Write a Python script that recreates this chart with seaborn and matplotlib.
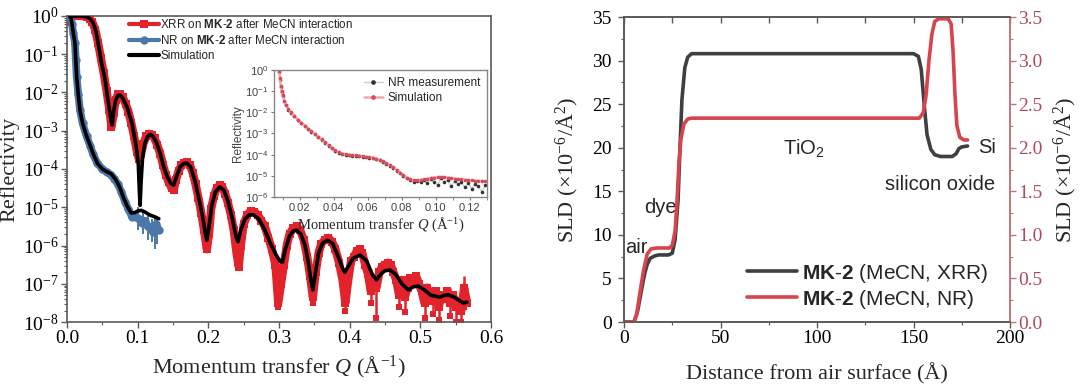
import numpy as np
import matplotlib
matplotlib.use("Agg")
import matplotlib.pyplot as plt
import seaborn as sns
from matplotlib.ticker import LogLocator, MultipleLocator, NullFormatter

sns.set_style("ticks")
plt.rcParams["font.family"] = ["Liberation Serif", "DejaVu Serif"]
plt.rcParams["mathtext.fontset"] = "custom"
plt.rcParams["mathtext.rm"] = "Liberation Serif"
plt.rcParams["mathtext.it"] = "Liberation Serif:italic"
plt.rcParams["mathtext.bf"] = "Liberation Sans:bold"
plt.rcParams["mathtext.sf"] = "Liberation Sans"

SANS = ["Liberation Sans", "DejaVu Sans"]

# ---------------- XRR / NR reflectivity (log10 R) ----------------
xrr_q = [0.002, 0.005, 0.008, 0.012, 0.016, 0.020, 0.024, 0.028, 0.032, 0.036,
         0.040, 0.044, 0.048, 0.052, 0.056, 0.060, 0.063, 0.066, 0.069, 0.072,
         0.075, 0.079, 0.083, 0.087, 0.091, 0.095, 0.099, 0.102, 0.105, 0.108,
         0.112, 0.116, 0.120, 0.124, 0.128, 0.132, 0.136, 0.140, 0.144, 0.148,
         0.151, 0.154, 0.158, 0.162, 0.166, 0.170, 0.174, 0.178, 0.182, 0.186,
         0.190, 0.194, 0.198, 0.201, 0.204, 0.208, 0.212, 0.216, 0.220, 0.224,
         0.228, 0.232, 0.236, 0.240, 0.243, 0.246, 0.250, 0.255, 0.260, 0.265,
         0.270, 0.275, 0.280, 0.285, 0.290, 0.295, 0.299, 0.303, 0.307, 0.311,
         0.315, 0.320, 0.325, 0.330, 0.335, 0.340, 0.344, 0.348, 0.352, 0.356,
         0.360, 0.365, 0.370, 0.375, 0.380, 0.385, 0.390, 0.394, 0.398, 0.402,
         0.406, 0.410, 0.414, 0.418, 0.422, 0.426, 0.430, 0.434, 0.438, 0.442,
         0.446, 0.450, 0.454, 0.458, 0.462, 0.466, 0.470, 0.474, 0.478, 0.482,
         0.486, 0.490, 0.494, 0.498, 0.502, 0.506, 0.510, 0.514, 0.518, 0.522,
         0.526, 0.530, 0.534, 0.538, 0.542, 0.546, 0.550, 0.554, 0.558, 0.562,
         0.566]
xrr_log = [-0.15, -0.05, 0.0, 0.0, 0.0, 0.0, -0.01, -0.03, -0.07, -0.17,
           -0.36, -0.7, -1.1, -1.5, -1.95, -2.45, -2.9, -2.55, -2.2, -2.05,
           -2.05, -2.13, -2.3, -2.5, -2.8, -3.15, -3.55, -3.75, -3.6, -3.35,
           -3.15, -3.08, -3.1, -3.2, -3.38, -3.6, -3.9, -4.15, -4.35, -4.5,
           -4.55, -4.3, -4.05, -3.9, -3.85, -3.83, -3.9, -4.1, -4.4, -4.75,
           -5.15, -5.6, -6.1, -5.7, -5.05, -4.7, -4.5, -4.43, -4.48, -4.65,
           -4.9, -5.2, -5.6, -6.2, -6.55, -6.0, -5.45, -5.2, -5.1, -5.12,
           -5.2, -5.35, -5.5, -5.8, -6.1, -6.5, -7.5, -7.0, -6.5, -6.0,
           -5.7, -5.55, -5.5, -5.6, -5.85, -6.3, -6.8, -7.35, -6.7, -6.2,
           -5.95, -5.85, -5.8, -5.9, -6.1, -6.45, -6.9, -7.5, -6.9, -6.4,
           -6.3, -6.15, -6.1, -6.2, -6.5, -6.75, -7.2, -6.9, -7.1, -6.7,
           -6.55, -6.5, -6.45, -6.5, -6.7, -6.9, -7.3, -6.9, -7.35, -7.1,
           -6.85, -6.95, -6.8, -7.0, -7.2, -7.5, -7.1, -7.35, -7.45, -7.2,
           -7.6, -7.3, -7.4, -7.2, -7.5, -7.3, -7.6, -7.45, -7.7, -7.1,
           -7.5]

# error bars of the XRR points at high Q (log10 of lower / upper ends)
xrr_eb_q = [0.299, 0.348, 0.394, 0.430, 0.438, 0.470, 0.478, 0.506, 0.518, 0.526,
            0.542, 0.550, 0.558, 0.562]
xrr_eb_lo = [-7.6, -7.5, -7.7, -7.5, -7.9, -7.6, -7.75, -7.9, -7.8, -7.95,
             -7.85, -8.0, -8.0, -7.6]
xrr_eb_hi = [-7.3, -7.2, -7.3, -6.9, -6.8, -7.0, -7.0, -7.2, -7.1, -7.2,
             -7.1, -7.3, -7.3, -6.8]

xrr_sim_q = [0.004, 0.015, 0.025, 0.032, 0.037, 0.041, 0.044, 0.049, 0.054, 0.058,
             0.061, 0.063, 0.064, 0.066, 0.069, 0.072, 0.075, 0.079, 0.085, 0.092,
             0.096, 0.099, 0.101, 0.1025, 0.1035, 0.105, 0.107, 0.110, 0.114, 0.118,
             0.122, 0.127, 0.132, 0.137, 0.142, 0.147, 0.151, 0.155, 0.160, 0.165,
             0.170, 0.175, 0.181, 0.187, 0.192, 0.196, 0.198, 0.201, 0.205, 0.210,
             0.216, 0.222, 0.228, 0.234, 0.239, 0.242, 0.246, 0.252, 0.258, 0.264,
             0.271, 0.279, 0.288, 0.296, 0.302, 0.305, 0.309, 0.315, 0.320, 0.325,
             0.331, 0.337, 0.342, 0.346, 0.348, 0.351, 0.356, 0.362, 0.369, 0.376,
             0.384, 0.390, 0.393, 0.398, 0.405, 0.415, 0.424, 0.432, 0.438, 0.444,
             0.450, 0.457, 0.465, 0.474, 0.483, 0.490, 0.497, 0.505, 0.515, 0.528,
             0.534, 0.540, 0.548, 0.556, 0.561, 0.566]
xrr_sim_log = [-0.02, 0.0, -0.01, -0.06, -0.18, -0.4, -0.7, -1.23, -1.67, -2.2,
               -2.55, -2.8, -2.85, -2.5, -2.2, -2.08, -2.07, -2.15, -2.38, -2.8,
               -3.2, -3.55, -3.9, -4.6, -4.95, -4.3, -3.7, -3.35, -3.15, -3.1,
               -3.15, -3.33, -3.6, -3.95, -4.2, -4.38, -4.42, -4.2, -3.95, -3.86,
               -3.85, -3.95, -4.3, -4.8, -5.25, -5.7, -5.86, -5.5, -4.95, -4.6,
               -4.47, -4.55, -4.85, -5.3, -5.75, -5.9, -5.6, -5.3, -5.2, -5.2,
               -5.3, -5.55, -5.95, -6.25, -6.42, -6.43, -6.1, -5.75, -5.62, -5.6,
               -5.7, -6.0, -6.5, -7.0, -7.16, -6.8, -6.2, -5.93, -5.86, -5.95,
               -6.3, -6.6, -6.7, -6.55, -6.33, -6.25, -6.4, -6.75, -6.9, -6.75,
               -6.66, -6.64, -6.75, -7.0, -7.16, -7.08, -7.06, -7.15, -7.3, -7.35,
               -7.3, -7.29, -7.35, -7.45, -7.5, -7.48]

nr_q = [0.005, 0.007, 0.009, 0.0113, 0.0125, 0.0137, 0.016, 0.0184, 0.022, 0.0278,
        0.033, 0.037, 0.043, 0.050, 0.056, 0.062, 0.067, 0.072, 0.077, 0.082,
        0.087, 0.092, 0.097, 0.102, 0.106, 0.110, 0.114, 0.118, 0.122, 0.126,
        0.130]
nr_log = [0.0, -0.2, -0.45, -0.71, -1.15, -1.59, -2.05, -2.46, -2.8, -3.15,
          -3.4, -3.62, -3.85, -4.0, -4.08, -4.15, -4.25, -4.4, -4.6, -4.85,
          -5.05, -5.25, -5.25, -5.3, -5.4, -5.35, -5.5, -5.55, -5.65, -5.45,
          -5.6]
nr_eb_q = [0.100, 0.108, 0.114, 0.120, 0.124, 0.128]
nr_eb_lo = [-5.6, -5.7, -5.85, -5.9, -6.1, -5.95]
nr_eb_hi = [-5.0, -5.1, -5.2, -5.3, -5.2, -5.3]

nr_sim_q = [0.005, 0.007, 0.009, 0.0113, 0.0125, 0.0137, 0.016, 0.0184, 0.022, 0.027,
            0.032, 0.037, 0.043, 0.050, 0.056, 0.062, 0.068, 0.074, 0.080, 0.086,
            0.091, 0.096, 0.100, 0.105, 0.110, 0.117, 0.124, 0.130]
nr_sim_log = [0.0, -0.2, -0.45, -0.71, -1.15, -1.59, -2.05, -2.46, -2.8, -3.1,
              -3.35, -3.6, -3.85, -4.0, -4.07, -4.12, -4.25, -4.45, -4.75, -5.0,
              -5.15, -5.14, -5.1, -5.08, -5.12, -5.2, -5.25, -5.3]

# ---------------- inset: NR measurement vs simulation ----------------
ins_q = [0.008, 0.0085, 0.009, 0.0095, 0.010, 0.011, 0.012, 0.0135, 0.015, 0.017,
         0.019, 0.021, 0.023, 0.025, 0.027, 0.029, 0.031, 0.033, 0.035, 0.037,
         0.039, 0.041, 0.043, 0.045, 0.047, 0.049, 0.051, 0.053, 0.055, 0.057,
         0.059, 0.061, 0.063, 0.065, 0.067, 0.069, 0.071, 0.073, 0.075, 0.077,
         0.079, 0.081, 0.083, 0.085, 0.087, 0.089, 0.091, 0.093, 0.095, 0.097,
         0.099, 0.101, 0.103, 0.105, 0.107, 0.109, 0.111, 0.113, 0.115, 0.117,
         0.119, 0.121, 0.123, 0.125, 0.127, 0.129]
ins_sim_log = [-0.05, -0.4, -0.75, -1.0, -1.2, -1.45, -1.65, -1.85, -2.0, -2.15,
               -2.35, -2.5, -2.63, -2.77, -2.9, -3.02, -3.15, -3.28, -3.42, -3.55,
               -3.67, -3.8, -3.88, -3.95, -3.98, -4.0, -4.02, -4.03, -4.05, -4.07,
               -4.1, -4.12, -4.15, -4.2, -4.25, -4.32, -4.4, -4.5, -4.6, -4.72,
               -4.85, -4.97, -5.08, -5.17, -5.22, -5.22, -5.2, -5.17, -5.14, -5.1,
               -5.08, -5.06, -5.05, -5.06, -5.08, -5.1, -5.13, -5.15, -5.17, -5.19,
               -5.2, -5.22, -5.23, -5.24, -5.25, -5.26]
ins_meas_log = [-0.08, -0.45, -0.8, -1.05, -1.22, -1.48, -1.66, -1.88, -2.02, -2.17,
                -2.36, -2.52, -2.65, -2.78, -2.92, -3.04, -3.16, -3.3, -3.43, -3.57,
                -3.69, -3.82, -3.9, -3.96, -4.0, -4.01, -4.04, -4.05, -4.06, -4.09,
                -4.12, -4.14, -4.17, -4.22, -4.27, -4.35, -4.42, -4.53, -4.63, -4.75,
                -4.88, -5.0, -5.12, -5.2, -5.3, -5.25, -5.3, -5.2, -5.35, -5.15,
                -5.3, -5.45, -5.1, -5.3, -5.2, -5.5, -5.25, -5.4, -5.3, -5.55,
                -5.35, -5.6, -5.4, -5.5, -5.75, -5.45]

# ---------------- SLD profiles ----------------
sld_xrr_d = [0, 5, 5.5, 7, 8.5, 10, 11, 12, 13.5, 16, 18, 23, 25, 26.5, 28, 29, 30,
             31.5, 33, 35, 60, 100, 150, 152.5, 154, 155.5, 157, 159, 161, 164, 170,
             172, 173.5, 175, 178]
sld_xrr_v = [0, 0, 0.2, 1.2, 3.0, 4.8, 5.8, 6.6, 7.3, 7.6, 7.7, 7.7, 7.9, 9.5, 14, 20,
             25.5, 29.2, 30.4, 30.8, 30.8, 30.8, 30.8, 30.5, 29, 25, 21.5, 19.8, 19.2,
             19.0, 19.0, 19.3, 19.9, 20.1, 20.2]
sld_nr_d = [0, 5, 6.5, 8, 10, 12, 14, 17, 23.5, 25, 26.5, 27.5, 28.5, 29.5, 31, 33,
            35, 100, 153, 155, 156.5, 158, 159.5, 161, 163, 168, 169.5, 170.5, 171.5,
            172.5, 174, 176, 178]
sld_nr_v = [0, 0, 0.08, 0.3, 0.58, 0.78, 0.84, 0.85, 0.85, 0.88, 1.05, 1.4, 1.85,
            2.1, 2.27, 2.33, 2.34, 2.34, 2.34, 2.4, 2.6, 3.0, 3.3, 3.45, 3.48, 3.48,
            3.42, 3.1, 2.6, 2.25, 2.12, 2.09, 2.09]

RED = "#e3232b"
BLUE = "#4a78a8"
GRAY = "#5a5a5a"
NR_RED = "#d8434c"

fig = plt.figure(figsize=(10.8, 3.88), dpi=100)
ax1 = fig.add_axes([0.062, 0.170, 0.3926, 0.789])
ax2 = fig.add_axes([0.5778, 0.170, 0.3574, 0.786])
axin = fig.add_axes([0.2537, 0.4923, 0.1972, 0.3273])

# ---- main reflectivity panel ----
ax1.set_yscale("log")
ax1.vlines(xrr_eb_q, np.power(10.0, xrr_eb_lo), np.power(10.0, xrr_eb_hi),
           color=RED, lw=1.8, zorder=2)
ax1.scatter(xrr_eb_q, np.power(10.0, xrr_eb_lo), marker="s", s=22, color=RED,
            linewidths=0, zorder=2)
sns.lineplot(x=xrr_q, y=np.power(10.0, xrr_log), ax=ax1, color=RED, lw=6,
             marker="s", markersize=6, markeredgewidth=0, sort=False,
             label=r"XRR on $\mathbf{MK}$-$\mathbf{2}$ after MeCN interaction", zorder=3)
ax1.vlines(nr_eb_q, np.power(10.0, nr_eb_lo), np.power(10.0, nr_eb_hi),
           color=BLUE, lw=1.4, zorder=2)
sns.lineplot(x=nr_q, y=np.power(10.0, nr_log), ax=ax1, color=BLUE, lw=5.5,
             marker="o", markersize=6, markeredgewidth=0, sort=False,
             label=r"NR on $\mathbf{MK}$-$\mathbf{2}$ after MeCN interaction", zorder=3)
sns.lineplot(x=xrr_sim_q, y=np.power(10.0, xrr_sim_log), ax=ax1, color="black",
             lw=2.6, sort=False, label="Simulation", zorder=4)
sns.lineplot(x=nr_sim_q, y=np.power(10.0, nr_sim_log), ax=ax1, color="black",
             lw=2.6, sort=False, zorder=4)

ax1.set_xlim(0, 0.6)
ax1.set_ylim(1e-8, 1)
ax1.xaxis.set_major_locator(MultipleLocator(0.1))
ax1.xaxis.set_minor_locator(MultipleLocator(0.05))
ax1.yaxis.set_major_locator(LogLocator(base=10, numticks=20))
ax1.yaxis.set_minor_locator(LogLocator(base=10, subs=np.arange(2, 10), numticks=20))
ax1.yaxis.set_minor_formatter(NullFormatter())
ax1.xaxis.set_major_formatter(matplotlib.ticker.FormatStrFormatter("%.1f"))
ax1.tick_params(which="both", direction="out", colors=GRAY, labelcolor="black",
                labelsize=14, pad=2)
ax1.tick_params(which="major", length=4, width=1)
ax1.tick_params(which="minor", length=2.5, width=0.8)
for s in ax1.spines.values():
    s.set_color(GRAY)
    s.set_linewidth(1.2)
ax1.set_xlabel(r"Momentum transfer $Q$ (Å$^{-1}$)", fontsize=16, labelpad=5)
ax1.set_ylabel("Reflectivity", fontsize=16, labelpad=2)
leg1 = ax1.legend(loc="upper left", bbox_to_anchor=(0.14, 1.0), frameon=False,
                  prop={"family": SANS, "size": 8.4}, handlelength=2.6,
                  handletextpad=0.1, labelspacing=0.25, borderpad=0.2, borderaxespad=0)
for ln in leg1.get_lines():
    ln.set_linewidth(3)

# ---- inset ----
axin.set_yscale("log")
sns.lineplot(x=ins_q, y=np.power(10.0, ins_meas_log), ax=axin, color="#cfcfcf", lw=1,
             marker="o", markersize=2.6, markerfacecolor="#333333",
             markeredgewidth=0, sort=False, label="NR measurement")
sns.lineplot(x=ins_q, y=np.power(10.0, ins_sim_log), ax=axin, color="#f2a9b0", lw=1.8,
             marker="o", markersize=2.6, markerfacecolor="#d64a5a",
             markeredgewidth=0, sort=False, label="Simulation")
axin.set_xlim(0.005, 0.13)
axin.set_ylim(1e-6, 1)
axin.xaxis.set_major_locator(MultipleLocator(0.02))
axin.xaxis.set_minor_locator(MultipleLocator(0.01))
axin.xaxis.set_major_formatter(matplotlib.ticker.FormatStrFormatter("%.2f"))
axin.yaxis.set_major_locator(LogLocator(base=10, numticks=10))
axin.yaxis.set_minor_locator(matplotlib.ticker.NullLocator())
axin.tick_params(which="both", direction="out", colors="#777777", labelcolor="#444444",
                 labelsize=8, length=2.5, pad=1.5)
for lab in axin.get_xticklabels() + axin.get_yticklabels():
    lab.set_family(SANS)
for s in axin.spines.values():
    s.set_color("#888888")
    s.set_linewidth(1)
axin.set_xlabel(r"Momentum transfer $Q$ (Å$^{-1}$)", fontsize=10.5, labelpad=2)
axin.set_ylabel("Reflectivity", fontsize=8.5, family=SANS, color="#444444", labelpad=1)
axin.legend(loc="upper right", frameon=False, prop={"family": SANS, "size": 8.5},
            handlelength=1.6, handletextpad=0.4, labelspacing=0.25,
            borderaxespad=0.2, markerscale=1.3)

# ---- SLD panel ----
ax2r = ax2.twinx()
sns.lineplot(x=sld_xrr_d, y=sld_xrr_v, ax=ax2, color="#3f3f3f", lw=2.6, sort=False)
sns.lineplot(x=sld_nr_d, y=sld_nr_v, ax=ax2r, color=NR_RED, lw=2.6, sort=False)
ax2.set_xlim(0, 200)
ax2.set_ylim(0, 35)
ax2r.set_ylim(0, 3.5)
ax2.xaxis.set_major_locator(MultipleLocator(50))
ax2.xaxis.set_minor_locator(MultipleLocator(25))
ax2.yaxis.set_major_locator(MultipleLocator(5))
ax2.yaxis.set_minor_locator(MultipleLocator(2.5))
ax2r.yaxis.set_major_locator(MultipleLocator(0.5))
ax2r.yaxis.set_minor_locator(MultipleLocator(0.25))
ax2r.yaxis.set_major_formatter(matplotlib.ticker.FormatStrFormatter("%.1f"))
ax2.tick_params(which="both", direction="out", colors=GRAY, labelcolor="black",
                labelsize=14)
ax2.tick_params(axis="y", pad=5)
ax2.tick_params(axis="x", pad=2)
ax2.tick_params(which="major", length=4, width=1)
ax2.tick_params(which="minor", length=2.5, width=0.8)
top = ax2.secondary_xaxis("top")
top.xaxis.set_major_locator(MultipleLocator(25))
top.tick_params(direction="in", length=4, width=1, colors=GRAY, labeltop=False)
top.spines["top"].set_visible(False)
ax2r.tick_params(which="both", direction="out", colors="#c9707a", labelcolor="#b04a58",
                 labelsize=14, pad=2)
ax2r.tick_params(which="major", length=4, width=1)
ax2r.tick_params(which="minor", length=2.5, width=0.8)
for s in ax2.spines.values():
    s.set_color(GRAY)
    s.set_linewidth(1.2)
for s in ax2r.spines.values():
    s.set_color(GRAY)
    s.set_linewidth(1.2)
ax2r.spines["right"].set_color("#d07a84")
ax2.set_xlabel("Distance from air surface (Å)", fontsize=16, labelpad=11)
ax2.set_ylabel(r"SLD ($\times$10$^{-6}$/Å$^{2}$)", fontsize=16, labelpad=8)
ax2r.set_ylabel(r"SLD ($\times$10$^{-6}$/Å$^{2}$)", fontsize=16, labelpad=7)

ax2.text(93, 20, r"TiO$_\mathsf{2}$", family=SANS, fontsize=14.5, ha="center", va="center")
ax2.text(188, 20, "Si", family=SANS, fontsize=14.5, ha="center", va="center")
ax2.text(163.5, 15.8, "silicon oxide", family=SANS, fontsize=14.5, ha="center", va="center")
ax2.text(18.7, 13.1, "dye", family=SANS, fontsize=14.5, ha="center", va="center")
ax2.text(6.6, 8.6, "air", family=SANS, fontsize=14.5, ha="center", va="center")

handles = ax2.get_lines()[:1] + ax2r.get_lines()[:1]
ax2r.legend(handles, [r"$\mathbf{MK}$-$\mathbf{2}$ (MeCN, XRR)",
                      r"$\mathbf{MK}$-$\mathbf{2}$ (MeCN, NR)"],
            loc="lower right", bbox_to_anchor=(0.965, 0.01), frameon=False,
            prop={"family": SANS, "size": 15}, handlelength=2.4,
            handletextpad=0.25, labelspacing=0.15, borderaxespad=0)

fig.savefig("out.png", dpi=100)
